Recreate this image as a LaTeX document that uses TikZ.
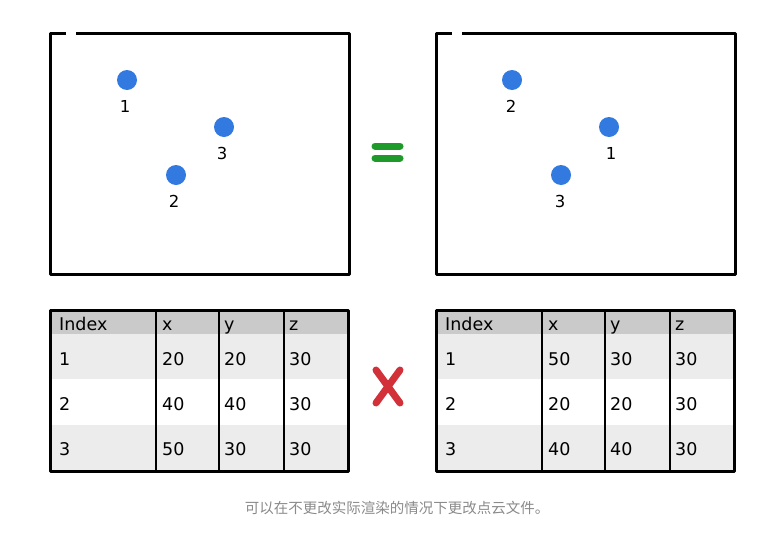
\documentclass[tikz,border=0pt]{standalone}
\usepackage{fontspec}
\setmainfont{DejaVu Sans}
\newfontfamily\cjkfont{Noto Sans CJK SC}
\usetikzlibrary{positioning}
\definecolor{ptblue}{HTML}{3279E0}
\definecolor{okgreen}{HTML}{1E9A2A}
\definecolor{badred}{HTML}{D2313A}
\definecolor{headgray}{HTML}{CACACA}
\definecolor{rowgray}{HTML}{ECECEC}
\definecolor{capgray}{HTML}{8A8A8A}

\begin{document}
\begin{tikzpicture}[
    x=1pt,y=-1pt,
    frame/.style={line width=3pt,line join=round},
    colline/.style={line width=2.5pt},
    pt/.style={circle,fill=ptblue,minimum size=20pt,inner sep=0pt},
    ptlabel/.style={font=\fontsize{16.5}{19}\selectfont,inner sep=1pt},
    cell/.style={anchor=base west,font=\fontsize{17.5}{20}\selectfont,inner sep=0pt},
    signstroke/.style={line width=7pt,line cap=round},
    node distance=9pt,
  ]
    \useasboundingbox (0,0) rectangle (767,533);

    % point clouds
    \draw[frame] (76,33) -- (349,33) -- (349,274) -- (50,274) -- (50,33) -- (66,33);
    \draw[frame] (462,33) -- (735,33) -- (735,274) -- (436,274) -- (436,33) -- (452,33);

    \node[pt] (A1) at (127,80)  {};
    \node[pt] (A2) at (176,175) {};
    \node[pt] (A3) at (224,127) {};
    \node[ptlabel,below=of A1,xshift=-2pt] (A1t) {1};
    \node[ptlabel,below=of A2,xshift=-2pt] (A2t) {2};
    \node[ptlabel,below=of A3,xshift=-2pt] (A3t) {3};

    \node[pt] (B2) at (512,80)  {};
    \node[pt] (B3) at (561,175) {};
    \node[pt] (B1) at (609,127) {};
    \node[ptlabel,below=of B2,xshift=-1pt] (B2t) {2};
    \node[ptlabel,below=of B3,xshift=-1pt] (B3t) {3};
    \node[ptlabel,below=of B1,xshift=2pt] (B1t) {1};

    % equal / not equal
    \draw[signstroke,okgreen] (375,146) -- (400,146);
    \draw[signstroke,okgreen] (375,158) -- (400,158);
    \draw[signstroke,badred] (376,370) -- (400,403);
    \draw[signstroke,badred] (400,370) -- (376,403);

    % tables
    \foreach \tx/\tn/\rows in {50/A/{1/20/20/30,2/40/40/30,3/50/30/30},
                               436/B/{1/50/30/30,2/20/20/30,3/40/40/30}} {
      \begin{scope}[xshift=\tx]
        \fill[headgray] (0,310) rectangle (298,334);
        \fill[rowgray] (0,334) rectangle (298,379);
        \fill[rowgray] (0,425) rectangle (298,471);
        \foreach \cx in {106,169,234}
          \draw[colline] (\cx,310) -- (\cx,471);
        \draw[frame] (0,310) rectangle (298,471);
        \node[cell] (\tn-h1) at (9,330)   {Index};
        \node[cell] (\tn-h2) at (112,330) {x};
        \node[cell] (\tn-h3) at (174,330) {y};
        \node[cell] (\tn-h4) at (239,330) {z};
        \foreach \i/\vx/\vy/\vz [count=\k] in \rows {
          \node[cell] (\tn-\k-1) at (9,320+45*\k)   {\i};
          \node[cell] (\tn-\k-2) at (112,320+45*\k) {\vx};
          \node[cell] (\tn-\k-3) at (174,320+45*\k) {\vy};
          \node[cell] (\tn-\k-4) at (239,320+45*\k) {\vz};
        }
      \end{scope}
    }

    \node[font=\cjkfont\fontsize{14.5}{17}\selectfont,text=capgray] (cap) at (397,508)
      {可以在不更改实际渲染的情况下更改点云文件。};
  \end{tikzpicture}
\end{document}
